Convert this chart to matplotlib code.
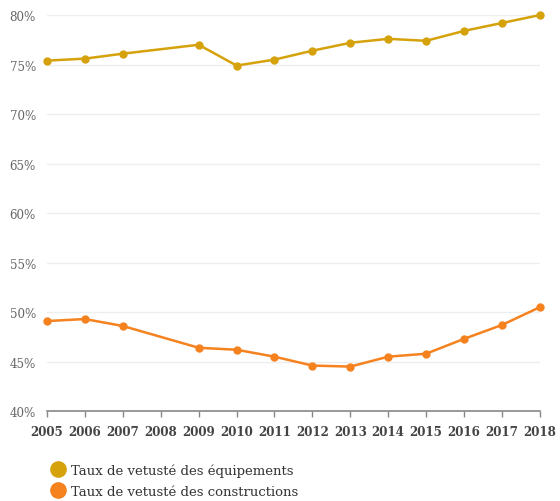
import matplotlib
matplotlib.use("Agg")
import matplotlib.pyplot as plt
from matplotlib.lines import Line2D

years = [2005, 2006, 2007, 2009, 2010, 2011, 2012, 2013, 2014, 2015, 2016, 2017, 2018]
equipements = [75.4, 75.6, 76.1, 77.0, 74.9, 75.5, 76.4, 77.2, 77.6, 77.4, 78.4, 79.2, 80.0]
constructions = [49.1, 49.3, 48.6, 46.4, 46.2, 45.5, 44.6, 44.5, 45.5, 45.8, 47.3, 48.7, 50.5]
xticks = list(range(2005, 2019))
yticks = [40, 45, 50, 55, 60, 65, 70, 75, 80]
labels = ["Taux de vetusté des équipements", "Taux de vetusté des constructions"]
c_equip = "#D6A20B"
c_cons = "#F5821F"

fig = plt.figure(figsize=(5.6, 5.02), dpi=100)
ax = fig.add_axes([0.084, 0.179, 0.880, 0.789])

ax.plot(years, equipements, color=c_equip, lw=1.8, marker="o", ms=5, clip_on=False, zorder=3)
ax.plot(years, constructions, color=c_cons, lw=1.8, marker="o", ms=5, clip_on=False, zorder=3)

ax.set_xlim(2005, 2018)
ax.set_ylim(40, 80)
ax.set_xticks(xticks)
ax.set_xticklabels([str(y) for y in xticks], family="DejaVu Serif", fontweight="bold",
                   fontsize=8.6, color="#444444")
ax.set_yticks(yticks)
ax.set_yticklabels([f"{v}%" for v in yticks], family="DejaVu Serif", fontsize=8.6, color="#666666")

for v in yticks[1:]:
    ax.axhline(v, color="#eeeeee", lw=1, zorder=1)

for s in ["top", "right", "left"]:
    ax.spines[s].set_visible(False)
ax.spines["bottom"].set_color("#888888")
ax.spines["bottom"].set_linewidth(1.2)
ax.tick_params(axis="x", direction="out", length=4, color="#888888", width=1.0, pad=6)
ax.tick_params(axis="y", length=0, pad=8)

handles = [Line2D([], [], color=c_equip, marker="o", ls="none", ms=11),
           Line2D([], [], color=c_cons, marker="o", ls="none", ms=11)]
leg = fig.legend(handles, labels, loc="upper left", bbox_to_anchor=(0.075, 0.086),
                 frameon=False, handletextpad=0.2, labelspacing=0.6, borderaxespad=0,
                 handlelength=1.6, prop={"family": "DejaVu Serif", "size": 9.5})
for t in leg.get_texts():
    t.set_color("#333333")

fig.savefig("out.png", dpi=100)
